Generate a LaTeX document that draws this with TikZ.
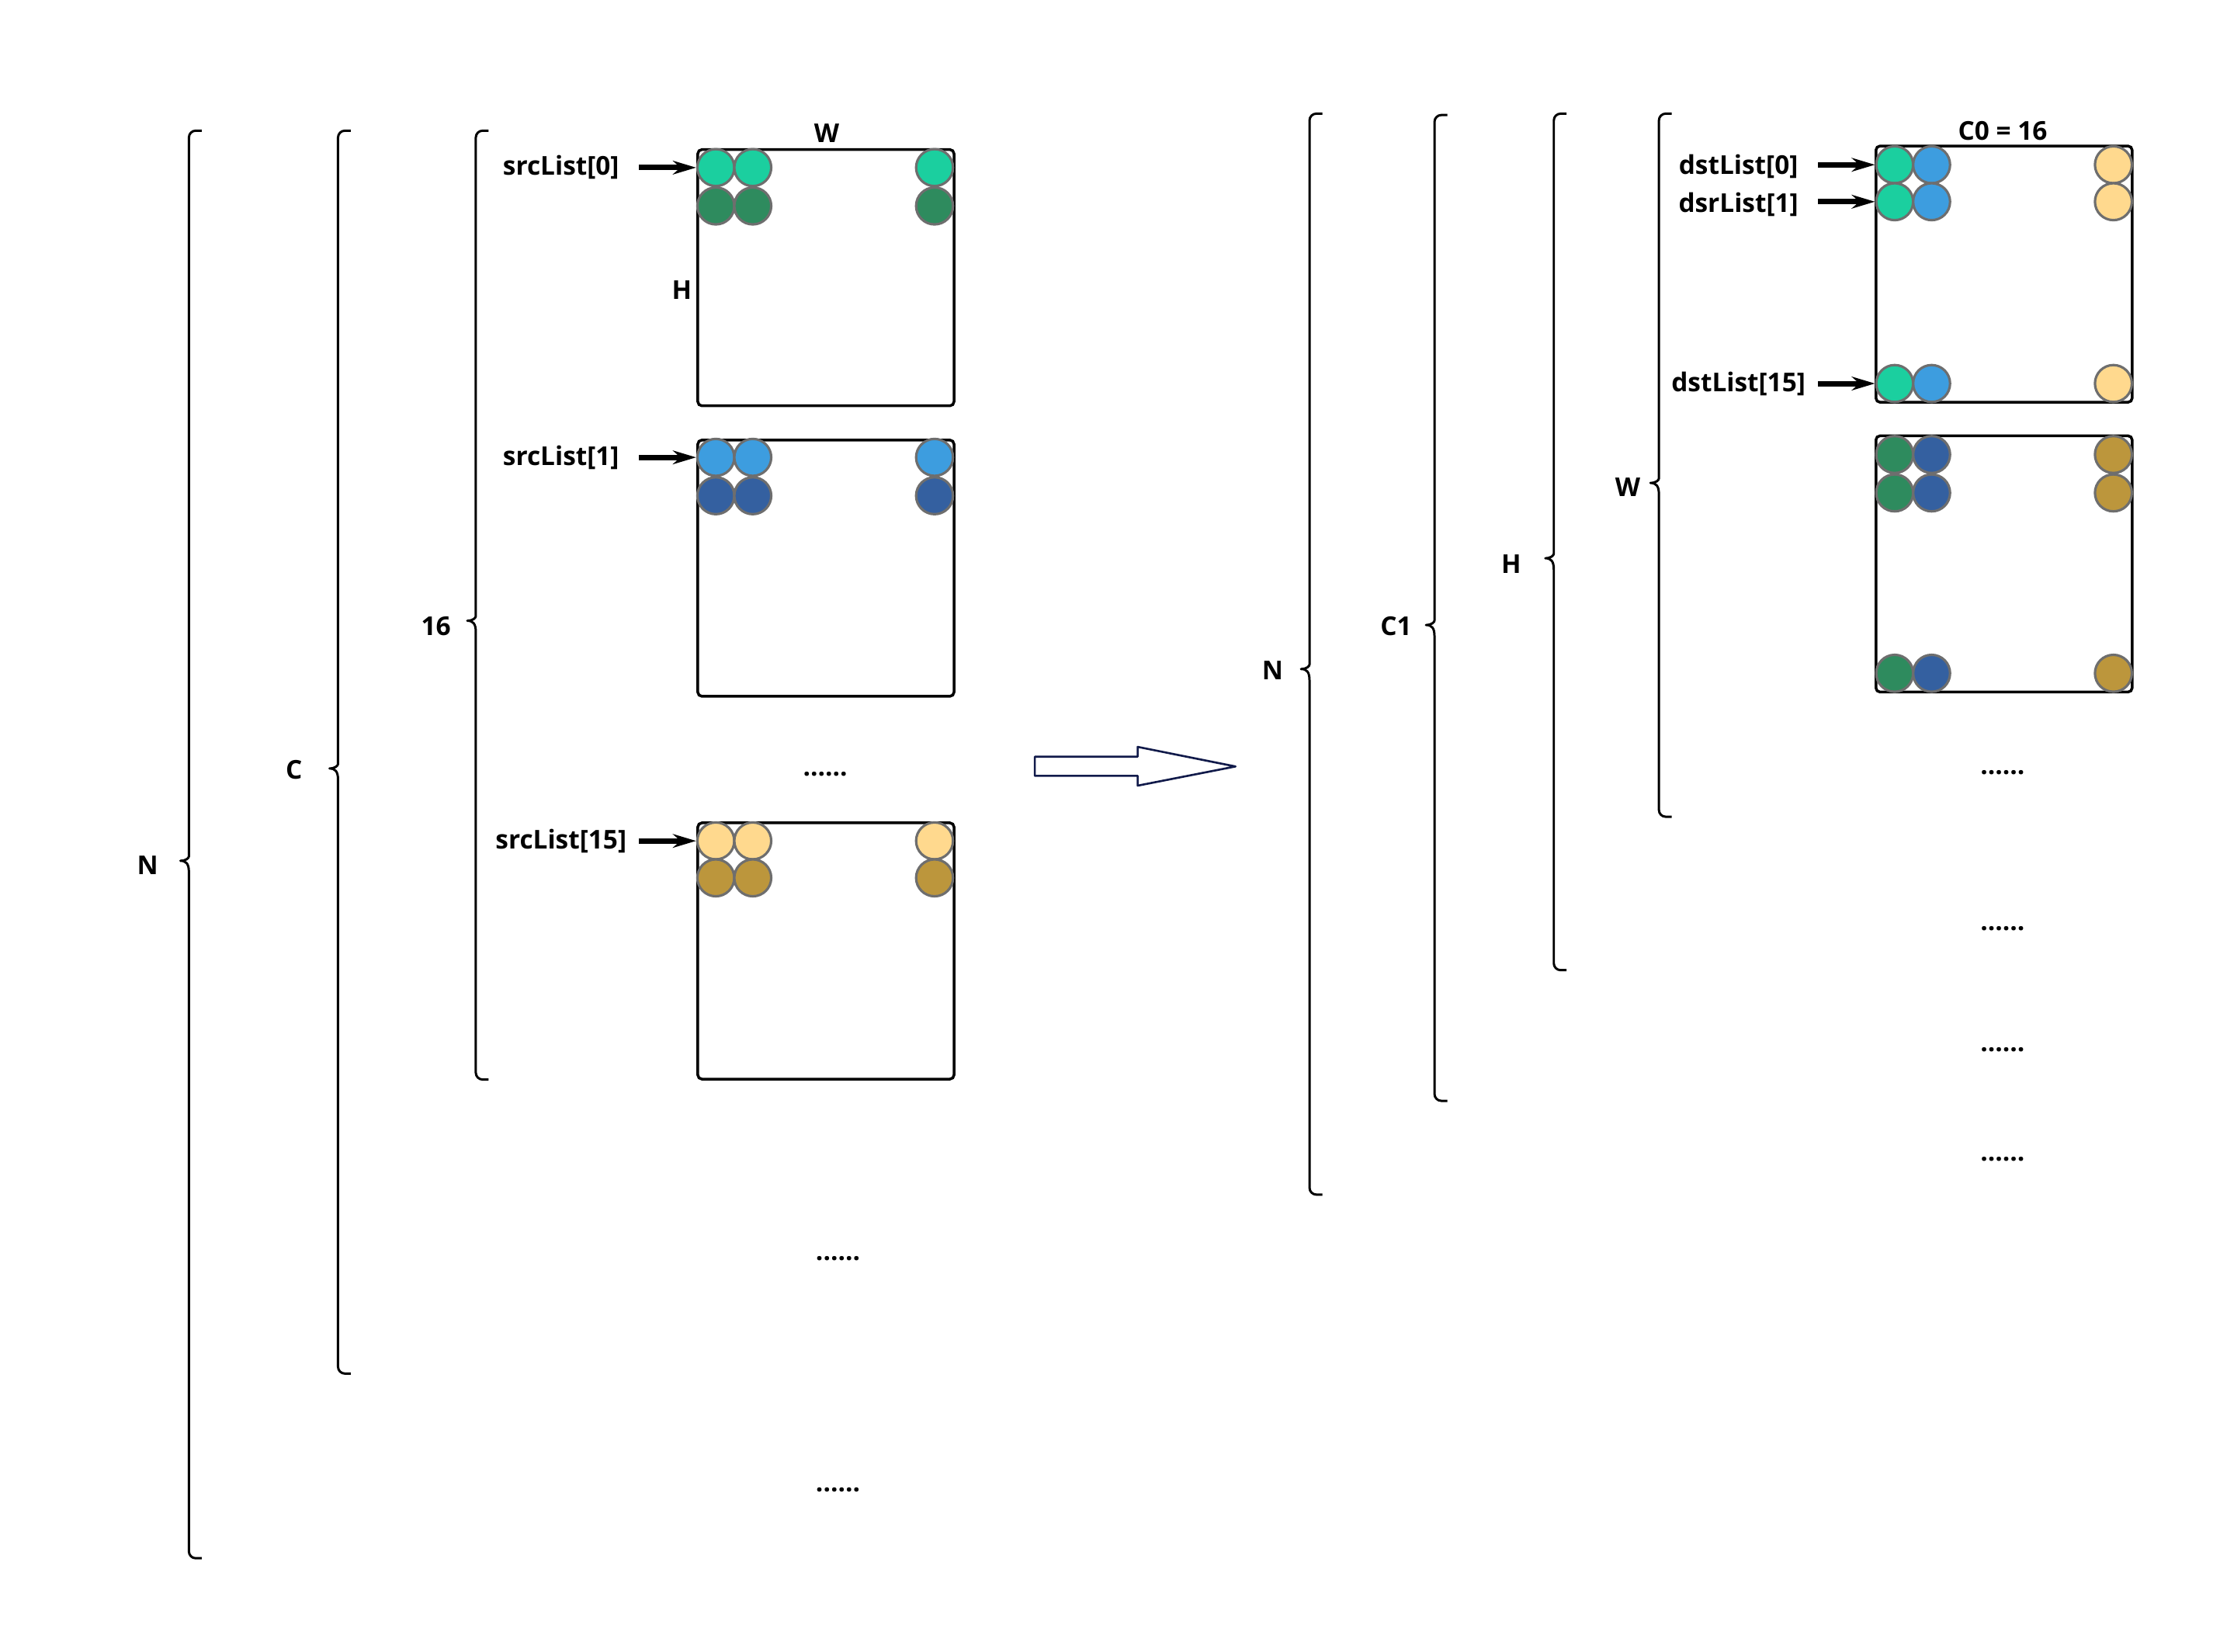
\documentclass[tikz,border=0pt]{standalone}
\usepackage{fontspec}
\setmainfont{Open Sans}
\usetikzlibrary{arrows.meta}
\definecolor{cTeal}{HTML}{1BCF9F}
\definecolor{cGreen}{HTML}{2E8B5E}
\definecolor{cLBlue}{HTML}{3D9DDF}
\definecolor{cDBlue}{HTML}{3460A0}
\definecolor{cLYel}{HTML}{FFD98E}
\definecolor{cGold}{HTML}{BC963C}
\definecolor{cEdge}{HTML}{6E6E6E}
\definecolor{cNavy}{HTML}{111A4A}
\newcommand\mybrk[4]{%
  \draw[brk] (#1+9,#2) [rounded corners=2.5pt] -- (#1,#2) -- (#1,#4-8) [sharp corners]
    .. controls (#1,#4-2) and (#1-2,#4) .. (#1-6,#4)
    .. controls (#1-2,#4) and (#1,#4+2) .. (#1,#4+8)
    [rounded corners=2.5pt] -- (#1,#3) -- (#1+9,#3);}
\begin{document}
\begin{tikzpicture}[x=0.018297cm,y=-0.018297cm,
  lbl/.style={font=\fontsize{9.5}{11}\selectfont\bfseries, inner sep=0pt},
  dot/.style={circle, draw=cEdge, line width=0.9pt, minimum size=0.4757cm, inner sep=0pt},
  sq/.style={draw, line width=1pt, rounded corners=1.5pt, minimum width=3.30cm, minimum height=3.30cm, inner sep=0pt},
  brk/.style={line width=0.85pt, line join=round},
  ptr/.style={line width=2pt, -{Stealth[length=8.5pt,width=5pt]}}]
\useasboundingbox (0,0) rectangle (1568,1163);

% ---------- left side brackets ----------
\mybrk{133}{92}{1097}{606}
\mybrk{238}{92}{967}{541}
\mybrk{335}{92}{760}{437}
\node[lbl] (lN) at (104,609) {N};
\node[lbl] (lC) at (207,542) {C};
\node[lbl] (l16) at (307,441) {16};

% ---------- left boxes ----------
\node[sq] (b1) at (581.5,195.5) {};
\node[sq] (b2) at (581.5,400) {};
\node[sq] (b3) at (581.5,669.5) {};
\node[lbl] (lW) at (582,94) {W};
\node[lbl] (lH) at (480,204) {H};

\foreach \x/\n in {504/a,530/b,658/c}{
  \node[dot, fill=cTeal]  (b1r1\n) at (\x,118) {};
  \node[dot, fill=cGreen] (b1r2\n) at (\x,145) {};
  \node[dot, fill=cLBlue] (b2r1\n) at (\x,322) {};
  \node[dot, fill=cDBlue] (b2r2\n) at (\x,349) {};
  \node[dot, fill=cLYel]  (b3r1\n) at (\x,592) {};
  \node[dot, fill=cGold]  (b3r2\n) at (\x,618) {};
}

\node[lbl] (s0) at (395,118) {srcList[0]};
\node[lbl] (s1) at (395,322) {srcList[1]};
\node[lbl] (s15) at (395,592) {srcList[15]};
\coordinate (as0) at (450,118);
\coordinate (as1) at (450,322);
\coordinate (as15) at (450,592);
\draw[ptr] (as0) -- (b1r1a.west);
\draw[ptr] (as1) -- (b2r1a.west);
\draw[ptr] (as15) -- (b3r1a.west);

\node[lbl] (d1) at (581,545) {......};
\node[lbl] (d2) at (590,886) {......};
\node[lbl] (d3) at (590,1049) {......};

% ---------- big hollow arrow ----------
\draw[cNavy, line width=0.75pt, line join=round]
  (728.6,532.7) -- (801,532.7) -- (801,525.8) -- (869.9,539.6)
  -- (801,553.1) -- (801,546.2) -- (728.6,546.2) -- cycle;

% ---------- right side brackets ----------
\mybrk{922}{80}{841}{471}
\mybrk{1010}{81}{775}{440}
\mybrk{1094}{80}{683}{393}
\mybrk{1168}{80}{575}{340}
\node[lbl] (rN) at (896,472) {N};
\node[lbl] (rC1) at (983,441) {C1};
\node[lbl] (rH) at (1064,397) {H};
\node[lbl] (rW) at (1146,343) {W};

% ---------- right boxes ----------
\node[sq] (r1) at (1411,193) {};
\node[sq] (r2) at (1411,397) {};
\node[lbl] (lC0) at (1410,92) {C0 = 16};

\foreach \y/\n in {116/a,142/b,270/c}{
  \node[dot, fill=cTeal]  (r1\n1) at (1334,\y) {};
  \node[dot, fill=cLBlue] (r1\n2) at (1360,\y) {};
  \node[dot, fill=cLYel]  (r1\n3) at (1488,\y) {};
}
\foreach \y/\n in {320/a,347/b,474/c}{
  \node[dot, fill=cGreen] (r2\n1) at (1334,\y) {};
  \node[dot, fill=cDBlue] (r2\n2) at (1360,\y) {};
  \node[dot, fill=cGold]  (r2\n3) at (1488,\y) {};
}

\node[lbl] (t0) at (1224,117) {dstList[0]};
\node[lbl] (t1) at (1224,144) {dsrList[1]};
\node[lbl] (t15) at (1224,270) {dstList[15]};
\coordinate (at0) at (1280,116);
\coordinate (at1) at (1280,142);
\coordinate (at15) at (1280,270);
\draw[ptr] (at0) -- (r1a1.west);
\draw[ptr] (at1) -- (r1b1.west);
\draw[ptr] (at15) -- (r1c1.west);

\node[lbl] (e1) at (1410,544) {......};
\node[lbl] (e2) at (1410,654) {......};
\node[lbl] (e3) at (1410,739) {......};
\node[lbl] (e4) at (1410,816) {......};
\end{tikzpicture}
\end{document}
